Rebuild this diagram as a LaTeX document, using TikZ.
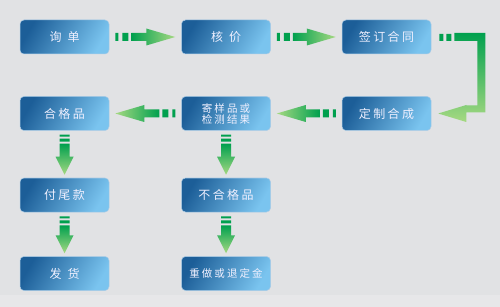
\documentclass[tikz,border=0pt]{standalone}
\usepackage{fontspec}
\newfontfamily\cjk[LetterSpace=20]{Noto Sans CJK SC}
\usetikzlibrary{positioning, calc}

\definecolor{bgray}{HTML}{E1E2E4}
\definecolor{bband}{HTML}{E7E7E9}
\definecolor{bdark}{HTML}{1C5E98}
\definecolor{blight}{HTML}{7AC4EF}
\definecolor{bline}{HTML}{A9CBE6}
\definecolor{gdark}{HTML}{00A04E}
\definecolor{glight}{HTML}{A6D982}

% fat arrow pointing right: two dashes, then shaft and head
\newcommand{\rightflow}[2]{%
  \fill[gdark] let \p1=(#1.east) in
    (\x1+6pt,\y1-4pt) rectangle ++(3pt,8pt)
    (\x1+13pt,\y1-4pt) rectangle ++(6pt,8pt);
  \shade[left color=gdark, right color=glight] let \p1=(#1.east), \p2=(#2.west) in
    (\x1+22pt,\y1-4pt) -- (\x2-35pt,\y1-4pt) -- (\x2-35pt,\y1-8.5pt)
    -- (\x2-6pt,\y1) -- (\x2-35pt,\y1+8.5pt) -- (\x2-35pt,\y1+4pt)
    -- (\x1+22pt,\y1+4pt) -- cycle;}

% the same, pointing left
\newcommand{\leftflow}[2]{%
  \fill[gdark] let \p1=(#1.west) in
    (\x1-6pt,\y1-4pt) rectangle ++(-3pt,8pt)
    (\x1-13pt,\y1-4pt) rectangle ++(-6pt,8pt);
  \shade[left color=glight, right color=gdark] let \p1=(#1.west), \p2=(#2.east) in
    (\x1-22pt,\y1-4pt) -- (\x2+35pt,\y1-4pt) -- (\x2+35pt,\y1-8.5pt)
    -- (\x2+6pt,\y1) -- (\x2+35pt,\y1+8.5pt) -- (\x2+35pt,\y1+4pt)
    -- (\x1-22pt,\y1+4pt) -- cycle;}

% pointing down
\newcommand{\downflow}[2]{%
  \fill[gdark] let \p1=(#1.south) in
    (\x1-5pt,\y1-4pt) rectangle ++(10pt,-2pt)
    (\x1-5pt,\y1-8pt) rectangle ++(10pt,-3pt);
  \shade[top color=gdark, bottom color=glight] let \p1=(#1.south), \p2=(#2.north) in
    (\x1-5pt,\y1-13pt) -- (\x1-5pt,\y2+21pt) -- (\x1-9pt,\y2+21pt)
    -- (\x1,\y2+3pt) -- (\x1+9pt,\y2+21pt) -- (\x1+5pt,\y2+21pt)
    -- (\x1+5pt,\y1-13pt) -- cycle;}

\begin{document}
\begin{tikzpicture}[
    x=1pt, y=-1pt,
    box/.style={rectangle, rounded corners=4pt, draw=bline, line width=0.5pt,
                left color=bdark, right color=blight, shading angle=60,
                minimum width=89pt, minimum height=34pt, inner sep=1pt,
                text=white!94!blue, align=center,
                font=\cjk\fontsize{12}{12}\selectfont},
    small/.style={font=\cjk\fontsize{10.5}{11}\selectfont}
  ]
  \useasboundingbox (0,0) rectangle (500,307);
  \fill[bgray] (0,0) rectangle (500,307);
  \fill[bband] (0,295) rectangle (500,307);

  \node[box]                         (xd) at (64.5,37) {询\hspace{6pt}单};
  \node[box, right=72pt of xd]       (hj) {核\hspace{6pt}价};
  \node[box, right=71pt of hj]       (qd) {签订合同};

  \node[box, below=42pt of xd]       (hg) {合格品};
  \node[box, small, below=42pt of hj] (jy) {寄样品或\\检测结果};
  \node[box, below=42pt of qd]       (dz) {定制合成};

  \node[box, below=47pt of hg]       (fw) {付尾款};
  \node[box, below=47pt of jy]       (bh) {不合格品};

  \node[box, below=44pt of fw]       (fh) {发\hspace{6pt}货};
  \node[box, small, below=44pt of bh] (cz) {重做或退定金};

  \rightflow{xd}{hj}
  \rightflow{hj}{qd}

  % elbow from the top row down to the second
  \fill[gdark] let \p1=(qd.east) in
    (\x1+8pt,\y1-4pt) rectangle ++(4pt,7pt)
    (\x1+15pt,\y1-4pt) rectangle ++(5pt,7pt);
  \shade[top color=gdark, bottom color=glight] let \p1=(qd.east), \p2=(dz.east) in
    (\x1+23pt,\y1+4pt) -- (\x1+54pt,\y1+4pt) -- (\x1+54pt,\y2+1pt)
    -- (\x2+35pt,\y2+1pt) -- (\x2+35pt,\y2-8.5pt) -- (\x2+7pt,\y2)
    -- (\x2+35pt,\y2+8.5pt) -- (\x2+35pt,\y2+8pt) -- (\x1+46pt,\y2+8pt)
    -- (\x1+46pt,\y1-4pt) -- (\x1+23pt,\y1-4pt) -- cycle;

  \leftflow{dz}{jy}
  \leftflow{jy}{hg}

  \downflow{hg}{fw}
  \downflow{fw}{fh}
  \downflow{jy}{bh}
  \downflow{bh}{cz}

\end{tikzpicture}
\end{document}
